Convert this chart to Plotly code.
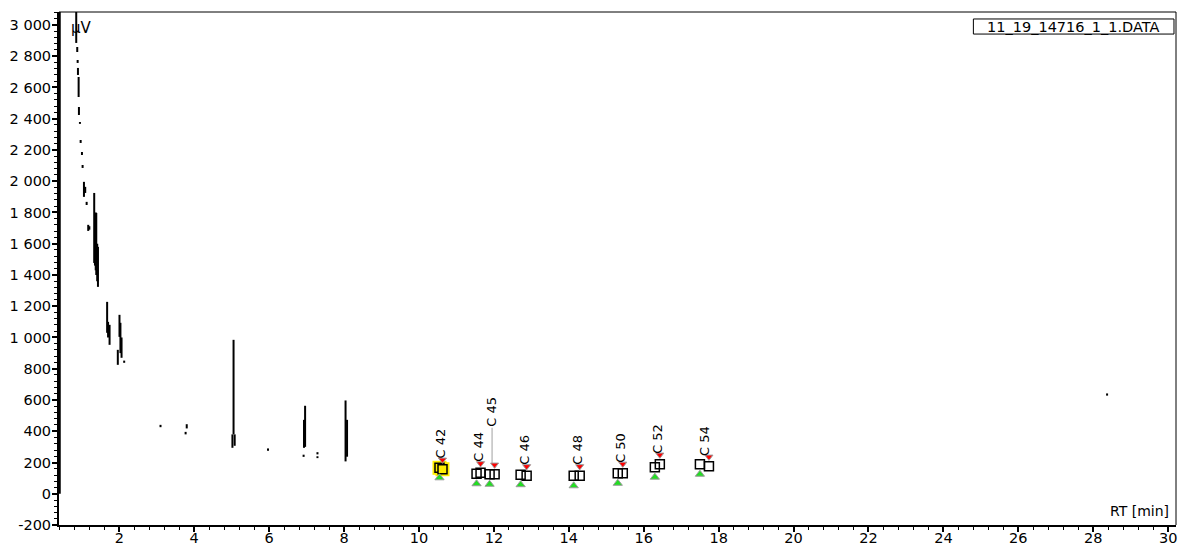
import plotly.graph_objects as go

# ---------------- data ----------------
# chromatogram signal, drawn as short vertical strokes (RT in min, µV low / high)
stroke_rt = [0.41, 0.85, 0.877, 0.888, 0.896, 0.914, 0.922, 0.949, 0.968, 1.003,
             1.02, 1.056, 1.09, 1.128, 1.17, 1.20,
             1.33, 1.35, 1.37, 1.385, 1.41, 1.43,
             1.675, 1.70, 1.74,
             1.96, 2.005, 2.03, 2.06, 2.13,
             3.10, 3.77, 3.80,
             5.02, 5.08, 5.05,
             5.97,
             6.92, 6.93, 6.96,
             7.29, 7.29,
             8.04, 8.08,
             28.37]
stroke_lo = [0, 2885, 2827, 2757, 2680, 2539, 2424, 2367, 2245, 2168,
             2085, 1900, 1925, 1848, 1682, 1690,
             1477, 1460, 1430, 1400, 1360, 1324,
             1030, 1000, 953,
             825, 1004, 900, 870, 838,
             426, 380, 418,
             294, 307, 380,
             275,
             236, 294, 300,
             228, 252,
             207, 237,
             628]
stroke_hi = [3100, 3100, 2859, 2776, 2725, 2667, 2475, 2379, 2264, 2187,
             2104, 1996, 1964, 1868, 1721, 1712,
             1925, 1700, 1800, 1797, 1600, 1580,
             1228, 1100, 1081,
             921, 1145, 1094, 1000, 852,
             441, 396, 445,
             380, 380, 985,
             290,
             250, 473, 563,
             240, 266,
             597, 473,
             642]

# integrated peaks
peak_names = ["C 42", "C 44", "C 45", "C 46", "C 48", "C 50", "C 52", "C 54"]
peak_start = [10.548, 11.537, 11.885, 12.714, 14.131, 15.307, 16.297, 17.500]
peak_end = [10.628, 11.644, 12.019, 12.874, 14.291, 15.441, 16.430, 17.741]
start_uv = [166, 128, 125, 122, 115, 131, 170, 189]
end_uv = [157, 134, 125, 115, 115, 131, 189, 176]
selected_peak = "C 42"

# axes
x_tick_vals = [2, 4, 6, 8, 10, 12, 14, 16, 18, 20, 22, 24, 26, 28, 30]
x_tick_text = ["2", "4", "6", "8", "10", "12", "14", "16", "18", "20", "22", "24", "26", "28", "30"]
y_tick_vals = [-200, 0, 200, 400, 600, 800, 1000, 1200, 1400, 1600, 1800, 2000,
               2200, 2400, 2600, 2800, 3000]
y_tick_text = ["-200", "0", "200", "400", "600", "800", "1 000", "1 200", "1 400",
               "1 600", "1 800", "2 000", "2 200", "2 400", "2 600", "2 800", "3 000"]
file_name = "11_19_14716_1_1.DATA"

# ---------------- styling constants ----------------
FONT = "DejaVu Sans"
X_RANGE = [0.39, 30.21]
Y_RANGE = [-200, 3083]
GREEN_OFF = 64     # µV below square for start marker
RED_OFF = 60       # µV above square for end marker
LABEL_GAP = 62     # µV between end square and label
LABEL_RAISE = 236  # extra lift for crowded labels

fig = go.Figure()

# signal strokes
sx, sy = [], []
for x, lo, hi in zip(stroke_rt, stroke_lo, stroke_hi):
    sx += [x, x, None]
    sy += [lo, hi, None]
fig.add_trace(go.Scatter(x=sx, y=sy, mode="lines", line=dict(color="black", width=2),
                         connectgaps=False, hoverinfo="skip", showlegend=False))

# label positions
label_x = [(a + b) / 2 for a, b in zip(peak_start, peak_end)]
label_y = []
for i in range(len(peak_names)):
    base = end_uv[i] + LABEL_GAP
    if i > 0 and label_x[i] - label_x[i - 1] < 0.45:
        base += LABEL_RAISE
    label_y.append(base)

# leader lines for raised labels
lx, ly = [], []
for i in range(len(peak_names)):
    if label_y[i] > end_uv[i] + LABEL_GAP:
        lx += [label_x[i], label_x[i], None]
        ly += [end_uv[i] + LABEL_GAP, label_y[i], None]
fig.add_trace(go.Scatter(x=lx, y=ly, mode="lines", line=dict(color="#c0c0c0", width=1.5),
                         hoverinfo="skip", showlegend=False))

# selected peak highlight
sel = [i for i, n in enumerate(peak_names) if n == selected_peak]
fig.add_trace(go.Scatter(
    x=[peak_start[i] for i in sel] + [peak_end[i] for i in sel],
    y=[start_uv[i] for i in sel] + [end_uv[i] for i in sel],
    mode="markers", marker=dict(symbol="square", size=14, color="#ffee00",
                                line=dict(width=0)),
    hoverinfo="skip", showlegend=False))

# start / end squares
sq_fill = ["#ffee00" if n == selected_peak else "rgba(0,0,0,0)" for n in peak_names]
for xs_, ys_ in ((peak_start, start_uv), (peak_end, end_uv)):
    fig.add_trace(go.Scatter(x=xs_, y=ys_, mode="markers",
                             marker=dict(symbol="square", size=9, color=sq_fill,
                                         line=dict(color="black", width=1.5)),
                             hoverinfo="skip", showlegend=False))

# start (green) and end (red) triangles
fig.add_trace(go.Scatter(x=peak_start, y=[v - GREEN_OFF for v in start_uv], mode="markers",
                         marker=dict(symbol="triangle-up", size=8, color="#22dd22",
                                     line=dict(color="#9a9a9a", width=1)),
                         hoverinfo="skip", showlegend=False))
fig.add_trace(go.Scatter(x=peak_end, y=[v + RED_OFF for v in end_uv], mode="markers",
                         marker=dict(symbol="triangle-down", size=7, color="#ff0000",
                                     line=dict(color="#9a9a9a", width=1)),
                         hoverinfo="skip", showlegend=False))

annotations = []
for name, x, y in zip(peak_names, label_x, label_y):
    annotations.append(dict(x=x, y=y, xref="x", yref="y", text=name, textangle=-90,
                            showarrow=False, xanchor="center", yanchor="bottom",
                            font=dict(family=FONT, size=13, color="black"),
                            borderpad=0))

annotations.append(dict(x=0.009, y=0.969, xref="paper", yref="paper", text="µV",
                        showarrow=False, xanchor="left", yanchor="middle",
                        font=dict(family=FONT, size=15, color="black")))
annotations.append(dict(x=0.9955, y=0.027, xref="paper", yref="paper", text="RT [min]",
                        showarrow=False, xanchor="right", yanchor="middle",
                        font=dict(family=FONT, size=14, color="black")))
annotations.append(dict(x=0.9083, y=0.971, xref="paper", yref="paper", text=file_name,
                        showarrow=False, xanchor="center", yanchor="middle",
                        font=dict(family=FONT, size=14.5, color="black")))

shapes = [
    dict(type="rect", xref="paper", yref="paper", x0=0.8186, x1=0.9982, y0=0.957, y1=0.9864,
         line=dict(color="black", width=1)),
    dict(type="line", xref="paper", yref="paper", x0=0, x1=1, y0=1, y1=1,
         line=dict(color="black", width=1)),
    dict(type="line", xref="paper", yref="paper", x0=1, x1=1, y0=0, y1=1,
         line=dict(color="black", width=1)),
]

fig.update_layout(
    width=1178, height=547,
    margin=dict(l=59, r=2, t=12, b=22),
    paper_bgcolor="white", plot_bgcolor="white",
    showlegend=False,
    annotations=annotations, shapes=shapes,
    xaxis=dict(range=X_RANGE, showline=True, linecolor="black", linewidth=2,
               automargin=False, ticklabelstandoff=-6,
               ticks="outside", ticklen=5, tickwidth=1.5, tickcolor="black",
               tickvals=x_tick_vals, ticktext=x_tick_text, showgrid=False, zeroline=False,
               tickfont=dict(family=FONT, size=14.5, color="black"),
               minor=dict(dtick=0.4, tick0=0, ticks="outside", ticklen=3,
                          tickcolor="black", tickwidth=1, showgrid=False)),
    yaxis=dict(range=Y_RANGE, showline=True, linecolor="black", linewidth=2,
               automargin=False, ticklabelstandoff=-2,
               ticks="outside", ticklen=5, tickwidth=1.5, tickcolor="black",
               tickvals=y_tick_vals, ticktext=y_tick_text, showgrid=False, zeroline=False,
               tickfont=dict(family=FONT, size=14.5, color="black"),
               minor=dict(dtick=40, tick0=0, ticks="outside", ticklen=3,
                          tickcolor="black", tickwidth=1, showgrid=False)),
)

fig.write_html("out.html", config={"displayModeBar": False},
               post_script="document.body.style.margin='0';"
                           "document.body.style.overflow='hidden';")
